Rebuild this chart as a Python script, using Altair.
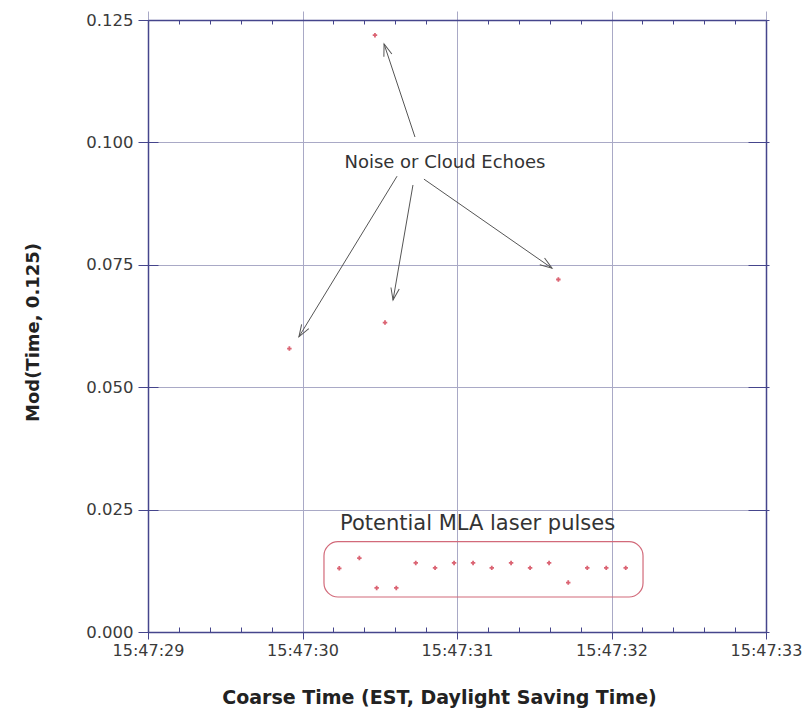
import math
import altair as alt
import pandas as pd

# ---- data (seconds after 15:47:00, Mod(Time, 0.125)) ----
noise_t = [29.915, 30.469, 30.534, 31.656]
noise_v = [0.0579, 0.1219, 0.0632, 0.0720]

pulse_t = [30.238, 30.368, 30.480, 30.607, 30.733, 30.858, 30.981, 31.104,
           31.225, 31.350, 31.473, 31.596, 31.720, 31.843, 31.966, 32.092]
pulse_v = [0.0130, 0.0151, 0.0090, 0.0090, 0.0141, 0.0131, 0.0141, 0.0141,
           0.0131, 0.0141, 0.0131, 0.0141, 0.0101, 0.0131, 0.0131, 0.0131]

x_ticks = [29, 30, 31, 32, 33]
y_ticks = [0.0, 0.025, 0.05, 0.075, 0.1, 0.125]

# annotation: box around pulses
box_t = [30.139, 32.204]
box_v = [0.00715, 0.01844]

# annotation texts
label_text = ["Noise or Cloud Echoes", "Potential MLA laser pulses"]
label_t = [30.922, 31.133]
label_v = [0.0958, 0.0220]
label_size = [18, 21]

# arrows: start -> end
arrow_t0 = [30.728, 30.612, 30.715, 30.786]
arrow_v0 = [0.1011, 0.0931, 0.0913, 0.0925]
arrow_t1 = [30.528, 29.977, 30.586, 31.615]
arrow_v1 = [0.1201, 0.0603, 0.0678, 0.0743]

# ---- layout ----
W, H = 618, 612
NAVY = "#45458c"
GRID = "#a9a9c6"
FONT = "DejaVu Sans"
XDOM = [29, 33]
YDOM = [0, 0.125]

xs = alt.Scale(domain=XDOM, nice=False, zero=False)
ys = alt.Scale(domain=YDOM, nice=False, zero=False)

minor_x = [a + k * 0.2 for a in x_ticks[:-1] for k in range(1, 5)]

pts = pd.DataFrame({"t": noise_t + pulse_t, "v": noise_v + pulse_v})


def axis_layer(xaxis, yaxis):
    return alt.Chart(pts).mark_point(opacity=0).encode(
        x=alt.X("t:Q", scale=xs, axis=xaxis),
        y=alt.Y("v:Q", scale=ys, axis=yaxis),
    )


common = dict(labelFont=FONT, titleFont=FONT)

ax_main = axis_layer(
    alt.Axis(orient="bottom", values=x_ticks, labelExpr="'15:47:' + datum.value",
             title="Coarse Time (EST, Daylight Saving Time)", grid=True,
             gridColor=GRID, gridWidth=1, tickSize=7, tickColor=NAVY,
             domainColor=NAVY, domainWidth=1.5, labelPadding=3,
             labelFontSize=16, labelColor="#3a3a3a", labelFlush=False,
             labelOverlap=False, titleFontSize=19, titleFontWeight="bold",
             titleColor="#222222", titleX=291, titleY=65,
             titleBaseline="middle", titleAlign="center", **common),
    alt.Axis(orient="left", values=y_ticks, format=".3f",
             title="Mod(Time, 0.125)", grid=True, gridColor=GRID, gridWidth=1,
             tickSize=10, tickColor=NAVY, domainColor=NAVY, domainWidth=1.5,
             labelPadding=5, labelFontSize=16.5, labelColor="#3a3a3a",
             labelFlush=False, labelOverlap=False, titleFontSize=18,
             titleFontWeight="bold", titleColor="#222222", titleX=-115,
             titleY=312, titleAngle=270, titleBaseline="middle",
             titleAlign="center", **common),
)

ax_inner = axis_layer(
    alt.Axis(orient="bottom", values=minor_x, labels=False, domain=False,
             grid=False, tickSize=5, offset=-5, tickColor=NAVY, title=""),
    alt.Axis(orient="left", values=y_ticks, labels=False, domain=False,
             grid=False, tickSize=10, offset=-10, tickColor=NAVY, title=""),
)

ax_frame = axis_layer(
    alt.Axis(orient="top", values=x_ticks, labels=False, domain=True,
             domainColor=NAVY, domainWidth=1.5, grid=False, tickSize=9,
             tickColor=GRID, title=""),
    alt.Axis(orient="right", values=y_ticks, labels=False, domain=True,
             domainColor=NAVY, domainWidth=1.5, grid=False, tickSize=3,
             tickColor=NAVY, title=""),
)

ax_frame_inner = axis_layer(
    alt.Axis(orient="top", values=minor_x, labels=False, domain=False,
             grid=False, tickSize=4, offset=-4, tickColor=NAVY, title=""),
    alt.Axis(orient="right", values=y_ticks, labels=False, domain=False,
             grid=False, tickSize=18, offset=-18, tickColor=NAVY, title=""),
)

# data points
points = alt.Chart(pts).mark_point(shape="cross", filled=True, size=20,
                                   color="#cc2238").encode(
    x=alt.X("t:Q", scale=xs, axis=None),
    y=alt.Y("v:Q", scale=ys, axis=None),
)

# rounded box
box_df = pd.DataFrame({"t0": [box_t[0]], "t1": [box_t[1]],
                       "v0": [box_v[0]], "v1": [box_v[1]]})
box = alt.Chart(box_df).mark_rect(cornerRadius=14, fillOpacity=0,
                                  stroke="#d26a7a", strokeWidth=1.2).encode(
    x=alt.X("t0:Q", scale=xs, axis=None), x2="t1:Q",
    y=alt.Y("v0:Q", scale=ys, axis=None), y2="v1:Q",
)

# text labels
lab_df = pd.DataFrame({"txt": label_text, "t": label_t, "v": label_v,
                       "s": label_size})
labels = alt.Chart(lab_df).mark_text(font=FONT, color="#333333",
                                     align="center", baseline="middle").encode(
    x=alt.X("t:Q", scale=xs, axis=None),
    y=alt.Y("v:Q", scale=ys, axis=None),
    text="txt:N",
    size=alt.Size("s:Q", scale=None, legend=None),
)

# arrows
px_t = W / (XDOM[1] - XDOM[0])
px_v = H / (YDOM[1] - YDOM[0])
ang = []
for a0, b0, a1, b1 in zip(arrow_t0, arrow_v0, arrow_t1, arrow_v1):
    dx = (a1 - a0) * px_t
    dy = -(b1 - b0) * px_v
    ang.append(math.degrees(math.atan2(dx, -dy)) % 360)
arr_df = pd.DataFrame({"t0": arrow_t0, "v0": arrow_v0, "t1": arrow_t1,
                       "v1": arrow_v1, "ang": ang})
shafts = alt.Chart(arr_df).mark_rule(color="#555555", strokeWidth=1).encode(
    x=alt.X("t0:Q", scale=xs, axis=None), x2="t1:Q",
    y=alt.Y("v0:Q", scale=ys, axis=None), y2="v1:Q",
)
heads = alt.Chart(arr_df).mark_point(
    shape="M-0.42,1.2L0,0L0.42,1.2", filled=False, size=400,
    color="#555555", strokeWidth=1, opacity=1).encode(
    x=alt.X("t1:Q", scale=xs, axis=None),
    y=alt.Y("v1:Q", scale=ys, axis=None),
    angle=alt.Angle("ang:Q", scale=None),
)

chart = alt.layer(
    ax_main, ax_inner, ax_frame, ax_frame_inner,
    box, shafts, heads, points, labels,
).resolve_scale(x="independent", y="independent").properties(
    width=W, height=H,
    autosize=alt.AutoSizeParams(type="none"),
    padding={"left": 148, "top": 20, "right": 39, "bottom": 83},
    background="white",
).configure_view(strokeWidth=0)

chart.save("out.html", embed_options={"renderer": "svg", "actions": False})
